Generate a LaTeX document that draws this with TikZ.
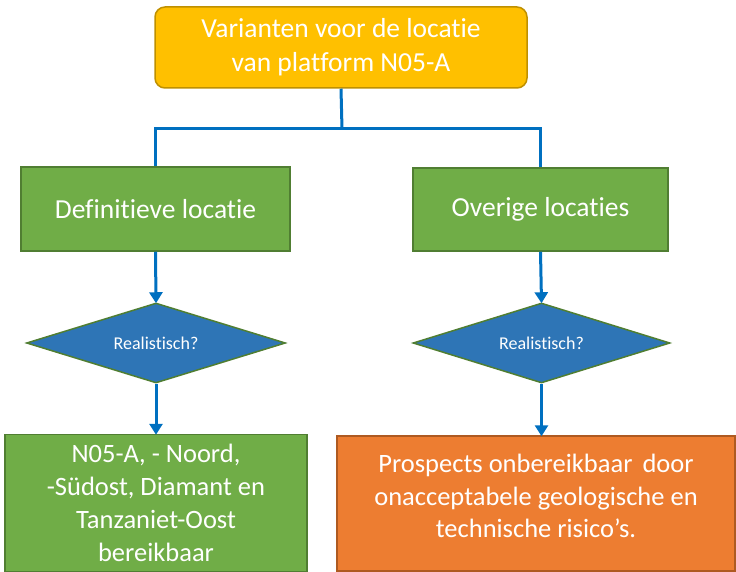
\documentclass[tikz,border=0pt]{standalone}
\usepackage{fontspec}
\setmainfont[Ligatures=NoCommon]{Carlito}
\usetikzlibrary{shapes.geometric,arrows.meta}
\definecolor{gold}{HTML}{FFC000}
\definecolor{goldb}{HTML}{BF9000}
\definecolor{grn}{HTML}{70AD47}
\definecolor{grnb}{HTML}{507E32}
\definecolor{blu}{HTML}{2E75B6}
\definecolor{orn}{HTML}{ED7D31}
\definecolor{ornb}{HTML}{AE5A21}
\definecolor{conn}{HTML}{0070C0}
\begin{document}
\begin{tikzpicture}[x=1pt,y=-1pt,
  box/.style={draw, line width=1.5pt, inner sep=0pt, align=center, text=white,
    font=\fontsize{27.5}{34}\selectfont},
  topbox/.style={box, fill=gold, draw=goldb, rounded corners=10pt},
  greenbox/.style={box, fill=grn, draw=grnb},
  orangebox/.style={box, fill=orn, draw=ornb},
  decision/.style={diamond, shape aspect=3.2, draw=grnb, fill=blu, line width=1.5pt,
    inner sep=0pt, text=white, font=\fontsize{18}{22}\selectfont},
  link/.style={draw=conn, line width=3pt},
  arrowlink/.style={link, -{Triangle[width=13pt,length=11pt]}, shorten >=-1pt},
]
\useasboundingbox (0,0) rectangle (736,572);
\node[topbox, minimum width=372pt, minimum height=81pt] (top) at (341,47.5)
  {Varianten voor de locatie\\van platform N05-A};
\node[greenbox, minimum width=269pt, minimum height=84pt] (L) at (155.5,209)
  {Definitieve locatie};
\node[greenbox, minimum width=255pt, minimum height=83pt] (R) at (540.5,209.5)
  {Overige locaties};
\node[decision, minimum width=259pt, minimum height=80pt] (Ld) at (156,343)
  {Realistisch?};
\node[decision, minimum width=257pt, minimum height=80pt] (Rd) at (541.5,343)
  {Realistisch?};
\node[greenbox, minimum width=302pt, minimum height=137pt,
  font=\fontsize{26.5}{33}\selectfont] (Lb) at (156,503)
  {N05-A, - Noord,\\-Südost, Diamant en\\Tanzaniet-Oost\\bereikbaar};
\node[orangebox, minimum width=398pt, minimum height=135pt] (Rb) at (536,503.5) {};
\node[text=white, align=center, font=\fontsize{26.5}{32.5}\selectfont,
  yshift=7.5pt] (Rbt) at (Rb.center)
  {Prospects onbereikbaar\hspace{4pt} door\\onacceptabele geologische en\\technische risico’s.};
\coordinate (bar) at (342,129);
\draw[link] (top.south) -- (bar);
\draw[link] (L.north) |- (bar) -| (R.north);
\draw[arrowlink] (L.south) -- (Ld.north);
\draw[arrowlink] (R.south) -- (Rd.north);
\draw[arrowlink] (Ld.south) -- (Ld.south |- Lb.north);
\draw[arrowlink] (Rd.south) -- (Rd.south |- Rb.north);
\end{tikzpicture}
\end{document}
